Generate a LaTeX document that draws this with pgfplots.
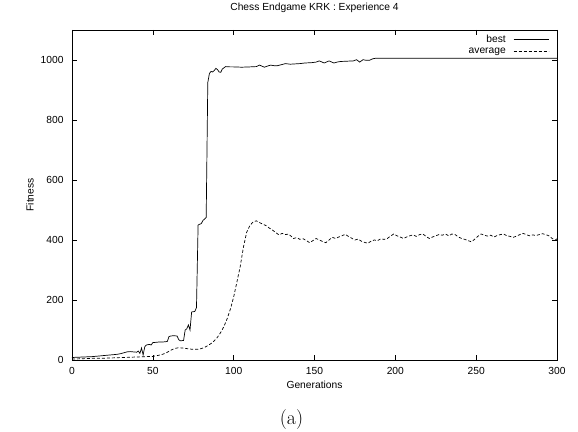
\documentclass[border=0pt]{standalone}
\usepackage{fontspec}
\setsansfont{Liberation Sans}
\usepackage{pgfplots}
\pgfplotsset{compat=1.18}

\begin{document}
\begin{tikzpicture}
\begin{axis}[
    scale only axis,
    width=485bp, height=330bp,
    xmin=0, xmax=300,
    ymin=0, ymax=1100,
    xtick={0,50,...,300},
    ytick={0,200,...,1000},
    tick align=inside,
    major tick length=5bp,
    every tick/.style={black, line width=0.6bp},
    axis line style={line width=0.8bp},
    font=\fontsize{10.3}{12}\sffamily,
    /pgf/number format/assume math mode=true,
    /pgf/number format/1000 sep={},
    xticklabel style={yshift=-4bp},
    yticklabel style={xshift=-5bp},
    title={Chess Endgame KRK : Experience 4},
    title style={at={(axis description cs:0.5,1.041)}, anchor=base},
    xlabel={Generations},
    xlabel style={at={(axis description cs:0.5,-0.0864)}, anchor=base},
    ylabel={Fitness},
    ylabel style={at={(axis description cs:-0.0866,0.5)}, anchor=center},
    legend style={at={(rel axis cs:0.99,0.995)}, anchor=north east,
        draw=none, fill=none, row sep=0.5bp,
        nodes={inner sep=1.5bp}},
    legend cell align=right,
    legend plot pos=right,
    legend image code/.code={\path (0bp,0bp); \draw[#1] (6bp,0bp) -- (41bp,0bp);},
]
% best individual
\addplot[black, line width=0.7bp] coordinates {
    (0,8) (2,9) (4,9) (6,10) (8,10) (10,11) (12,11) (14,12) (16,13) (18,14)
    (20,15) (22,16) (24,17) (26,18) (28,19) (30,21) (32,24) (34,27) (36,28)
    (38,27) (40,26) (41,30) (42,22) (43,40) (44,17) (45,44) (46,50) (48,52)
    (49,50) (50,58) (52,59) (54,60) (56,60) (58,61) (59,62) (60,78) (61,80)
    (63,81) (65,80) (66,68) (67,64) (69,65) (70,100) (71,104) (72,117) (73,100)
    (74,160) (76,162) (77,175) (78,450) (80,455) (81,465) (82,470) (83,475)
    (84,925) (85,955) (86,962) (87,960) (88,965) (89,972) (90,968) (91,960)
    (92,959) (93,970) (95,978) (98,977) (100,977) (105,976) (110,977) (114,978)
    (116,983) (119,976) (121,980) (123,983) (125,981) (127,981) (130,985)
    (132,988) (135,986) (138,987) (141,988) (144,990) (148,991) (151,993)
    (153,997) (156,990) (159,997) (162,990) (164,993) (166,995) (170,996)
    (174,997) (176,1001) (178,993) (180,1001) (182,999) (184,999) (186,1004)
    (188,1006) (300,1006)
};
\addlegendentry{best}
% population average
\addplot[black, line width=0.7bp, dash pattern=on 3bp off 2bp] coordinates {
    (0,3) (5,4) (10,5) (15,6) (20,6) (25,7) (30,8) (35,9) (40,10) (45,11)
    (50,12) (53,15) (56,19) (58,23) (60,29) (62,35) (64,39) (66,41) (68,40)
    (70,39) (72,37) (74,36) (76,36) (78,36) (80,38) (82,42) (84,48) (86,55)
    (88,64) (90,76) (92,92) (94,112) (96,138) (98,170) (100,210) (102,260)
    (104,310) (106,375) (108,425) (110,448) (112,460) (114,464) (116,458)
    (118,453) (120,448) (122,440) (124,433) (126,425) (128,417) (130,422)
    (132,418) (134,420) (136,410) (137,405) (139,408) (141,402) (143,404)
    (145,398) (147,391) (149,398) (151,405) (153,400) (155,395) (157,391)
    (159,400) (161,409) (163,405) (165,410) (167,414) (169,419) (171,412)
    (173,406) (175,400) (177,403) (179,396) (181,392) (183,389) (185,396)
    (187,400) (189,398) (191,404) (193,402) (195,405) (197,413) (199,420)
    (201,414) (203,410) (205,405) (207,410) (209,414) (211,417) (213,412)
    (215,418) (217,420) (219,412) (221,405) (223,410) (225,414) (227,418)
    (229,416) (231,420) (233,414) (235,420) (237,418) (239,410) (241,405)
    (243,402) (245,398) (247,394) (249,402) (251,412) (253,420) (255,416)
    (257,413) (259,416) (261,410) (263,415) (265,418) (267,420) (269,414)
    (271,412) (273,409) (275,413) (277,418) (279,422) (281,418) (283,414)
    (285,417) (287,415) (289,418) (291,421) (293,418) (295,414) (297,405)
    (299,400) (300,404)
};
\addlegendentry{average}
\end{axis}
\node[font=\fontsize{20}{24}\selectfont, anchor=base] at (219.5bp,-64bp) {(a)};
\pgfresetboundingbox
\path (-72bp,-72bp) rectangle (506bp,360bp);
\end{tikzpicture}
\end{document}
